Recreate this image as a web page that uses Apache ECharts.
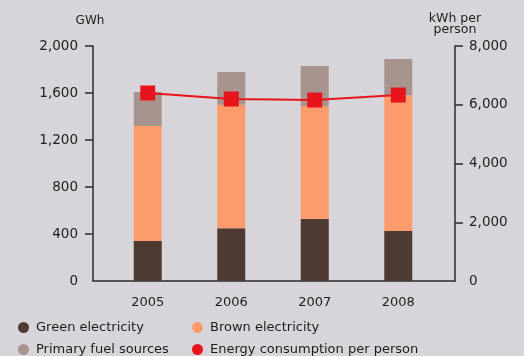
<!DOCTYPE html>
<html>
<head>
<meta charset="utf-8">
<script src="https://cdn.jsdelivr.net/npm/echarts@6/dist/echarts.min.js"></script>
<style>
  html, body { margin: 0; padding: 0; background: #d7d5da; }
  #main { width: 524px; height: 356px; }
</style>
</head>
<body>
<div id="main"></div>
<script>
const years = ['2005', '2006', '2007', '2008']
const green = [340, 450, 528, 426]
const brown = [979, 1050, 962, 1154]
const primary = [289, 279, 340, 309]
const perPerson = [6400, 6195, 6161, 6331]
const seriesNames = ['Green electricity', 'Brown electricity', 'Primary fuel sources', 'Energy consumption per person']
// ticks drawn on the axes (no tick at zero in the original)
const leftTicks = [400, 800, 1200, 1600, 2000]
const rightTicks = [2000, 4000, 6000, 8000]

const fmt = v => v.toLocaleString('en-US')
const txt = '#1f1c1d'
const axisCol = '#2d2a2b'
const font = 'DejaVu Sans, sans-serif'

// one legend per entry so the two columns line up like the original
const legendPos = [[13, 316], [187, 316], [13, 338], [187, 338]]
const legends = seriesNames.map((n, i) => ({
  left: legendPos[i][0], top: legendPos[i][1],
  icon: 'circle', itemWidth: 11, itemHeight: 11, itemGap: 0,
  textStyle: { fontSize: 13, color: txt, fontFamily: font, padding: [0, 0, 0, 2] },
  data: [n]
}))

const chart = echarts.init(document.getElementById('main'))
chart.setOption({
  backgroundColor: '#d7d5da',
  animation: false,
  textStyle: { fontFamily: font, color: txt },
  legend: legends,
  grid: [
    { left: 93, right: 69, top: 46, bottom: 75 },   // frame with the axes
    { left: 106, right: 84, top: 46, bottom: 75 }   // bars and line
  ],
  xAxis: [
    {
      gridIndex: 0, type: 'value', min: 0, max: 1,
      splitLine: { show: false },
      axisLine: { show: true, lineStyle: { color: axisCol, width: 1.5 } },
      axisTick: { show: false }, axisLabel: { show: false }
    },
    {
      gridIndex: 1, type: 'category', data: years,
      axisLine: { show: false }, axisTick: { show: false },
      axisLabel: { margin: 15, fontSize: 13, color: txt }
    }
  ],
  yAxis: [
    {
      gridIndex: 0, type: 'value', min: 0, max: 2000, interval: 400,
      name: 'GWh', nameLocation: 'end', nameGap: 19,
      nameTextStyle: { fontSize: 12, color: txt, padding: [0, 6, 0, 0] },
      splitLine: { show: false },
      axisLine: { show: true, lineStyle: { color: axisCol, width: 1.5 } },
      axisTick: { show: true, length: 8, customValues: leftTicks, lineStyle: { color: axisCol, width: 1.5 } },
      axisLabel: { margin: 15, fontSize: 13.5, color: txt, formatter: fmt }
    },
    {
      gridIndex: 0, type: 'value', min: 0, max: 8000, interval: 2000,
      position: 'right',
      name: 'kWh per\nperson', nameLocation: 'end', nameGap: 11,
      nameTextStyle: { fontSize: 12.5, color: txt, lineHeight: 11, align: 'center' },
      splitLine: { show: false },
      axisLine: { show: true, lineStyle: { color: axisCol, width: 1.5 } },
      axisTick: { show: true, length: 8, customValues: rightTicks, lineStyle: { color: axisCol, width: 1.5 } },
      axisLabel: { margin: 14, fontSize: 13.5, color: txt, formatter: fmt }
    },
    { gridIndex: 1, type: 'value', min: 0, max: 2000, show: false, splitLine: { show: false } },
    { gridIndex: 1, type: 'value', min: 0, max: 8000, show: false, splitLine: { show: false } }
  ],
  series: [
    {
      name: seriesNames[0], type: 'bar', stack: 'gwh', barWidth: 28,
      xAxisIndex: 1, yAxisIndex: 2,
      itemStyle: { color: '#4d3a33' },
      data: green
    },
    {
      name: seriesNames[1], type: 'bar', stack: 'gwh', barWidth: 28,
      xAxisIndex: 1, yAxisIndex: 2,
      itemStyle: { color: '#fc9b6c' },
      data: brown
    },
    {
      name: seriesNames[2], type: 'bar', stack: 'gwh', barWidth: 28,
      xAxisIndex: 1, yAxisIndex: 2,
      itemStyle: { color: '#a8948f' },
      data: primary
    },
    {
      name: seriesNames[3], type: 'line',
      xAxisIndex: 1, yAxisIndex: 3,
      symbol: 'rect', symbolSize: 15,
      lineStyle: { color: '#e8141b', width: 2 },
      itemStyle: { color: '#e8141b' },
      data: perPerson
    }
  ]
})
</script>
</body>
</html>
